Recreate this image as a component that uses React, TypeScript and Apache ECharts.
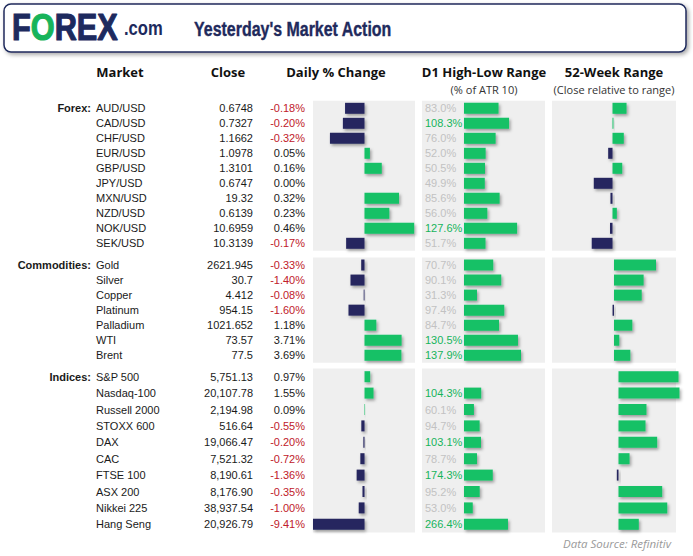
import React, { useEffect, useRef } from 'react';
import * as echarts from 'echarts';

// ---------- DATA ----------
const forexMarkets = ['AUD/USD', 'CAD/USD', 'CHF/USD', 'EUR/USD', 'GBP/USD', 'JPY/USD', 'MXN/USD', 'NZD/USD', 'NOK/USD', 'SEK/USD'];
const forexClose = ['0.6748', '0.7327', '1.1662', '1.0978', '1.3101', '0.6747', '19.32', '0.6139', '10.6959', '10.3139'];
const forexDaily = [-0.18, -0.2, -0.32, 0.05, 0.16, 0.0, 0.32, 0.23, 0.46, -0.17];
const forexD1 = [83.0, 108.3, 76.0, 52.0, 50.5, 49.9, 85.6, 56.0, 127.6, 51.7];
const forex52w = [11.7, 0.8, 9.4, -3.6, 8.1, -15.6, -1.7, 3.6, -2.1, -17.3];

const commodityMarkets = ['Gold', 'Silver', 'Copper', 'Platinum', 'Palladium', 'WTI', 'Brent'];
const commodityClose = ['2621.945', '30.7', '4.412', '954.15', '1021.652', '73.57', '77.5'];
const commodityDaily = [-0.33, -1.4, -0.08, -1.6, 1.18, 3.71, 3.69];
const commodityD1 = [70.7, 90.1, 31.3, 97.4, 84.7, 130.5, 137.9];
const commodity52w = [35.0, 24.7, 23.1, -1.2, 15.3, 4.4, 13.6];

const indexMarkets = ['S&P 500', 'Nasdaq-100', 'Russell 2000', 'STOXX 600', 'DAX', 'CAC', 'FTSE 100', 'ASX 200', 'Nikkei 225', 'Hang Seng'];
const indexClose = ['5,751.13', '20,107.78', '2,194.98', '516.64', '19,066.47', '7,521.32', '8,190.61', '8,176.90', '38,937.54', '20,926.79'];
const indexDaily = [0.97, 1.55, 0.09, -0.55, -0.2, -0.72, -1.36, -0.35, -1.0, -9.41];
const indexD1: (number | null)[] = [null, 104.3, 60.1, 94.7, 103.1, 78.7, 174.3, 95.2, 53.0, 266.4];
const index52w = [50.0, 50.8, 23.3, 22.5, 32.2, 9.2, -1.4, 36.4, 40.6, 16.9];

const sectionNames = ['Forex:', 'Commodities:', 'Indices:'];
const columnHeaders = ['Market', 'Close', 'Daily % Change', 'D1 High-Low Range', '52-Week Range'];
const columnSubtitles = ['(% of ATR 10)', '(Close relative to range)'];
const titleText = "Yesterday's Market Action";
const sourceText = 'Data Source: Refinitiv';

// ---------- STYLE ----------
const NAVY = '#25265e';
const GREEN = '#12c166';
const RED = '#c0202a';
const DARK = '#1a1a1a';
const GREY_LABEL = '#c2c2c2';
const GREEN_LABEL = '#16b45c';
const PANEL = '#efefef';
const FONT = '"Liberation Sans", Arial, sans-serif';
const HFONT = '"Open Sans", "Liberation Sans", sans-serif';

const sections = [
  {
    name: sectionNames[0], markets: forexMarkets, close: forexClose, daily: forexDaily, d1: forexD1 as (number | null)[], w52: forex52w,
    top: 100.8, height: 150, dailyRange: [-0.477, 0.468], d1Range: [-101, 194.7], w52Range: [-50.4, 52.9], clip52: true,
  },
  {
    name: sectionNames[1], markets: commodityMarkets, close: commodityClose, daily: commodityDaily, d1: commodityD1 as (number | null)[], w52: commodity52w,
    top: 257.5, height: 105.3, dailyRange: [-5.15, 5.05], d1Range: [-101.7, 196], w52Range: [-51.7, 51.7], clip52: true,
  },
  {
    name: sectionNames[2], markets: indexMarkets, close: indexClose, daily: indexDaily, d1: indexD1, w52: index52w,
    top: 368.5, height: 164, dailyRange: [-8.88, 8.7], d1Range: [-254.5, 491], w52Range: [-55.4, 47.9], clip52: false,
  },
];

const COLS = [
  { left: 313, width: 102 },
  { left: 422, width: 123 },
  { left: 552, width: 124 },
];

function buildOption() {
  const grid: any[] = [];
  const xAxis: any[] = [];
  const yAxis: any[] = [];
  const series: any[] = [];

  const baseY = (gridIndex: number, data: string[]) => ({
    type: 'category',
    gridIndex,
    position: 'left',
    inverse: true,
    data,
    axisLine: { show: false },
    axisTick: { show: false },
    splitLine: { show: false },
  });

  const barStyle = {
    shadowBlur: 3,
    shadowColor: 'rgba(0,0,0,0.35)',
    shadowOffsetX: 1.5,
    shadowOffsetY: 2,
  };

  sections.forEach((s, si) => {
    const ranges = [s.dailyRange, s.d1Range, s.w52Range];
    COLS.forEach((c, ci) => {
      const g = si * 3 + ci;
      grid.push({
        left: c.left, width: c.width, top: s.top, height: s.height,
        show: true, backgroundColor: PANEL, borderWidth: 0,
      });
      xAxis.push({ type: 'value', gridIndex: g, min: ranges[ci][0], max: ranges[ci][1], show: false });

      const firstY = yAxis.length;
      if (ci === 0) {
        // daily % change labels
        yAxis.push({
          ...baseY(g, s.markets),
          axisLabel: {
            interval: 0, margin: 8, fontSize: 11, fontFamily: FONT,
            formatter: (_v: string, i: number) => s.daily[i].toFixed(2) + '%',
            color: (_v: string, i: number) => (s.daily[i] < 0 ? RED : DARK),
          },
        });
        // close
        yAxis.push({
          ...baseY(g, s.markets),
          offset: 52,
          axisLabel: {
            interval: 0, margin: 8, fontSize: 11, fontFamily: FONT, color: DARK,
            formatter: (_v: string, i: number) => s.close[i],
          },
        });
        // market names
        yAxis.push({
          ...baseY(g, s.markets),
          offset: 217,
          axisLabel: {
            interval: 0, margin: 0, fontSize: 11, fontFamily: FONT, color: DARK, align: 'left',
          },
        });
        // section label
        yAxis.push({
          ...baseY(g, s.markets),
          offset: 222,
          axisLabel: {
            interval: 0, margin: 0, fontSize: 11, fontFamily: FONT, color: DARK, fontWeight: 'bold', align: 'right',
            formatter: (_v: string, i: number) => (i === 0 ? s.name : ''),
          },
        });
        series.push({
          type: 'bar', xAxisIndex: g, yAxisIndex: firstY, barWidth: 11, silent: true,
          data: s.daily.map((v) => ({ value: v, itemStyle: { color: v < 0 ? NAVY : GREEN, ...barStyle } })),
        });
      } else if (ci === 1) {
        yAxis.push({
          ...baseY(g, s.markets),
          axisLabel: {
            interval: 0, inside: true, margin: 3, align: 'left', fontSize: 11, fontFamily: FONT,
            formatter: (_v: string, i: number) => (s.d1[i] == null ? '' : (s.d1[i] as number).toFixed(1) + '%'),
            color: (_v: string, i: number) => ((s.d1[i] ?? 0) > 100 ? GREEN_LABEL : GREY_LABEL),
          },
        });
        series.push({
          type: 'bar', xAxisIndex: g, yAxisIndex: firstY, barWidth: 11, silent: true,
          itemStyle: { color: GREEN, ...barStyle },
          data: s.d1.map((v) => (v == null ? '-' : v)),
        });
      } else {
        yAxis.push({ ...baseY(g, s.markets), axisLabel: { show: false } });
        series.push({
          type: 'bar', xAxisIndex: g, yAxisIndex: firstY, barWidth: 11, silent: true, clip: s.clip52,
          data: s.w52.map((v) => ({ value: v, itemStyle: { color: v < 0 ? NAVY : GREEN, ...barStyle } })),
        });
      }
    });
  });

  const headerX = [120, 228, 336, 484, 614];
  const graphic: any[] = [
    {
      type: 'rect', z: 0,
      shape: { x: 4, y: 4, width: 682, height: 48, r: 7 },
      style: { fill: '#fff', stroke: '#1f2a5c', lineWidth: 1.5, shadowBlur: 4, shadowOffsetX: 2, shadowOffsetY: 2, shadowColor: 'rgba(0,0,0,0.35)' },
    },
    {
      type: 'text', x: 12, y: 27, scaleX: 0.83, z: 1,
      style: {
        text: '{n|F}{g|O}{n|REX}',
        rich: {
          n: { fontSize: 37, fontWeight: 900, fontFamily: FONT, fill: '#1d2a5e', stroke: '#1d2a5e', lineWidth: 1.2 },
          g: { fontSize: 37, fontWeight: 900, fontFamily: FONT, fill: '#17b45a', stroke: '#17b45a', lineWidth: 1.2 },
        },
        verticalAlign: 'middle',
      },
    },
    {
      type: 'text', x: 124, y: 28, scaleX: 0.83, z: 1,
      style: { text: '.com', fontSize: 20, fontWeight: 'bold', fontFamily: FONT, fill: '#1d2a5e', verticalAlign: 'middle' },
    },
    {
      type: 'text', x: 194, y: 28.5, scaleX: 0.76, z: 1,
      style: { text: titleText, fontSize: 21, fontWeight: 'bold', fontFamily: FONT, fill: '#1f2a5c', stroke: '#1f2a5c', lineWidth: 0.4, verticalAlign: 'middle' },
    },
    ...columnHeaders.map((h, i) => ({
      type: 'text', x: headerX[i], y: 72, z: 1,
      style: { text: h, fontSize: 13, fontWeight: 'bold', fontFamily: HFONT, fill: '#111', align: 'center', verticalAlign: 'middle' },
    })),
    ...columnSubtitles.map((h, i) => ({
      type: 'text', x: headerX[3 + i], y: 89, z: 1,
      style: { text: h, fontSize: 11, fontFamily: HFONT, fill: '#333', align: 'center', verticalAlign: 'middle' },
    })),
    {
      type: 'text', x: 671, y: 543, z: 1,
      style: { text: sourceText, fontSize: 11.5, fontStyle: 'italic', fontFamily: HFONT, fill: '#9a9a9a', align: 'right', verticalAlign: 'middle' },
    },
  ];

  return {
    animation: false,
    backgroundColor: '#fff',
    grid, xAxis, yAxis, series, graphic,
  };
}

export default function App() {
  const ref = useRef<HTMLDivElement>(null);
  useEffect(() => {
    if (!ref.current) return;
    const chart = echarts.init(ref.current, undefined, { renderer: 'svg' });
    chart.setOption(buildOption() as any);
    return () => chart.dispose();
  }, []);
  return (
    <div
      ref={ref}
      style={{ position: 'fixed', left: 0, top: 0, width: 693, height: 556, background: '#fff' }}
    />
  );
}
